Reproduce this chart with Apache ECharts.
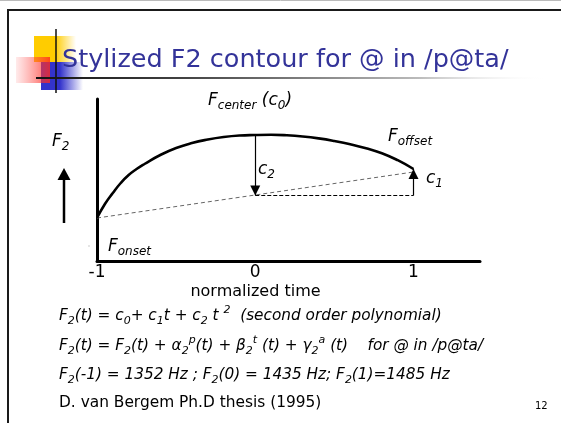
<!DOCTYPE html>
<html>
<head>
<meta charset="utf-8">
<script src="https://cdn.jsdelivr.net/npm/echarts@6/dist/echarts.min.js"></script>
<style>
  html, body { margin: 0; padding: 0; background: #fff; }
  #chart { width: 561px; height: 423px; }
</style>
</head>
<body>
<div id="chart"></div>
<script>
// values (F2 in drawing units, time normalized -1..1)
const timeTicks = [-1, 0, 1];
const curveTimes = [-1, -0.95, -0.9, -0.85, -0.8, -0.75, -0.7, -0.6, -0.5, -0.4, -0.3, -0.2, -0.1,
    0, 0.1, 0.2, 0.3, 0.4, 0.5, 0.6, 0.7, 0.8, 0.9, 1];
const curveF2 = [43, 57, 68, 78, 86, 92, 97, 106, 113, 118, 121.5, 124, 125.5,
    126, 126.2, 125.7, 124.5, 122.6, 120, 116.8, 112.8, 107.8, 100.8, 92];
const chordTimes = [-1, 1];
const chordF2 = [43, 89];
const baseTimes = [0, 1];
const baseF2 = [65.5, 65.5];
const arrowC2 = [[0, 126], [0, 65.5]];
const arrowC1 = [[1, 65.5], [1, 92]];

const FONT = '"DejaVu Sans", Verdana, sans-serif';
const INK = '#000';

const chart = echarts.init(document.getElementById('chart'));

const it = (size, extra) => Object.assign({
    fontSize: size, fontStyle: 'italic', fontFamily: FONT, color: INK
}, extra || {});

// rich styles for formula text
const richBig = {
    b: it(17, { lineHeight: 22 }),
    s: it(12, { lineHeight: 12, verticalAlign: 'bottom' })
};
const richText = {
    m: it(15.3, { lineHeight: 22 }),
    s: it(11, { lineHeight: 11, verticalAlign: 'bottom' }),
    p: it(11, { lineHeight: 11, verticalAlign: 'top' })
};

const label = (x, y, text, rich) => ({
    type: 'text', x: x, y: y, z: 10,
    style: { text: text, rich: rich, verticalAlign: 'middle', fill: INK }
});

let options = {
    animation: false,
    backgroundColor: '#fff',
    grid: {
        left: 97,
        right: 81,
        top: 99,
        bottom: 162
    },
    xAxis: {
        type: 'value',
        min: -1,
        max: 1.42,
        interval: 1,
        axisLine: { show: true, onZero: false, lineStyle: { color: INK, width: 3 } },
        axisTick: { show: false },
        splitLine: { show: false },
        axisLabel: {
            color: INK, fontSize: 17, fontFamily: FONT, margin: 3,
            showMaxLabel: false,
            formatter: v => timeTicks.includes(v) ? String(v) : ''
        },
        name: 'normalized time',
        nameLocation: 'middle',
        nameGap: 23,
        nameTextStyle: { color: INK, fontSize: 16, fontFamily: FONT, padding: [0, 66, 0, 0] }
    },
    yAxis: {
        type: 'value',
        min: 0,
        max: 162,
        axisLine: { show: true, onZero: false, lineStyle: { color: INK, width: 3 } },
        axisTick: { show: false },
        axisLabel: { show: false },
        splitLine: { show: false }
    },
    series: [
        {
            // chord onset -> offset
            type: 'line',
            data: chordTimes.map((t, i) => [t, chordF2[i]]),
            symbol: 'none',
            lineStyle: { color: '#666', width: 1, type: [4, 3] },
            z: 2
        },
        {
            type: 'line',
            data: baseTimes.map((t, i) => [t, baseF2[i]]),
            symbol: 'none',
            lineStyle: { color: INK, width: 1, type: [4, 2] },
            z: 2,
            markLine: {
                silent: true,
                animation: false,
                symbol: ['none', 'triangle'],
                symbolSize: 10,
                symbolOffset: [[0, 0], [0, 5]],
                label: { show: false },
                lineStyle: { color: INK, width: 1.2, type: 'solid' },
                data: [
                    [{ coord: arrowC2[0] }, { coord: arrowC2[1] }],
                    [{ coord: arrowC1[0] }, { coord: arrowC1[1] }]
                ]
            }
        },
        {
            // stylized F2 contour
            type: 'line',
            data: curveTimes.map((t, i) => [t, curveF2[i]]),
            smooth: 0.5,
            symbol: 'none',
            lineStyle: { color: INK, width: 2.6 },
            z: 4
        }
    ],
    graphic: [
        // slide frame
        { type: 'line', shape: { x1: 0, y1: 0.5, x2: 561, y2: 0.5 }, style: { stroke: '#bbb', lineWidth: 1 } },
        { type: 'polyline', shape: { points: [[8, 423], [8, 10], [561, 10]] }, style: { stroke: '#1a1a1a', lineWidth: 2, fill: null } },
        // title logo
        {
            type: 'rect', shape: { x: 34, y: 36, width: 42, height: 26 },
            style: { fill: new echarts.graphic.LinearGradient(0, 0, 1, 0, [
                { offset: 0, color: '#ffcc00' }, { offset: 0.5, color: '#ffcc00' }, { offset: 1, color: 'rgba(255,204,0,0)' }
            ]) }
        },
        {
            type: 'rect', shape: { x: 41, y: 62, width: 42, height: 28 },
            style: { fill: new echarts.graphic.LinearGradient(0, 0, 1, 0, [
                { offset: 0, color: '#3333cc' }, { offset: 0.45, color: '#3333cc' }, { offset: 1, color: 'rgba(51,51,204,0)' }
            ]) }
        },
        {
            type: 'rect', shape: { x: 16, y: 57, width: 34, height: 26 },
            style: { fill: new echarts.graphic.LinearGradient(0, 0, 1, 0, [
                { offset: 0, color: 'rgba(255,90,90,0.12)' }, { offset: 1, color: 'rgba(255,40,30,0.8)' }
            ]) }
        },
        { type: 'line', shape: { x1: 56, y1: 29, x2: 56, y2: 93 }, style: { stroke: '#111', lineWidth: 1.5 } },
        {
            type: 'line', shape: { x1: 36, y1: 78, x2: 545, y2: 78 },
            style: { lineWidth: 2, stroke: new echarts.graphic.LinearGradient(0, 0, 1, 0, [
                { offset: 0, color: '#111' }, { offset: 0.3, color: '#444' }, { offset: 0.75, color: '#bbb' }, { offset: 1, color: 'rgba(255,255,255,0)' }
            ]) }
        },
        {
            type: 'text', x: 62, y: 60, z: 10,
            style: { text: 'Stylized F2 contour for @ in /p@ta/', fill: '#333399', fontSize: 25.5, fontFamily: FONT, verticalAlign: 'middle' }
        },
        // left F2 arrow
        { type: 'line', shape: { x1: 64, y1: 178, x2: 64, y2: 223 }, style: { stroke: INK, lineWidth: 2.5 } },
        { type: 'polygon', shape: { points: [[64, 168], [57.5, 180], [70.5, 180]] }, style: { fill: INK } },
        { type: 'rect', shape: { x: 88.5, y: 245.5, width: 1, height: 1 }, style: { fill: '#999' } },
        // annotations
        label(52, 142, '{b|F}{s|2}', richBig),
        label(208, 101, '{b|F}{s|center}{b| (c}{s|0}{b|)}', richBig),
        label(388, 137, '{b|F}{s|offset}', richBig),
        label(108, 247, '{b|F}{s|onset}', richBig),
        label(258, 170, '{b|c}{s|2}', richBig),
        label(426, 179, '{b|c}{s|1}', richBig),
        // formulas
        label(59, 316, '{m|F}{s|2}{m|(t) = c}{s|0}{m|+ c}{s|1}{m|t + c}{s|2}{m| t }{p|2}{m|  (second order polynomial)}', richText),
        label(59, 346, '{m|F}{s|2}{m|(t) = F}{s|2}{m|(t) + α}{s|2}{p|p}{m|(t) + β}{s|2}{p|t}{m| (t) + γ}{s|2}{p|a}{m| (t)    for @ in /p@ta/}', richText),
        label(59, 375, '{m|F}{s|2}{m|(-1) = 1352 Hz ; F}{s|2}{m|(0) = 1435 Hz; F}{s|2}{m|(1)=1485 Hz}', richText),
        {
            type: 'text', x: 59, y: 403, z: 10,
            style: { text: 'D. van Bergem Ph.D thesis (1995)', fill: INK, fontSize: 15.4, fontFamily: FONT, verticalAlign: 'middle' }
        },
        {
            type: 'text', x: 535, y: 406, z: 10,
            style: { text: '12', fill: INK, fontSize: 10, fontFamily: FONT, verticalAlign: 'middle' }
        }
    ]
};

chart.setOption(options);
</script>
</body>
</html>
